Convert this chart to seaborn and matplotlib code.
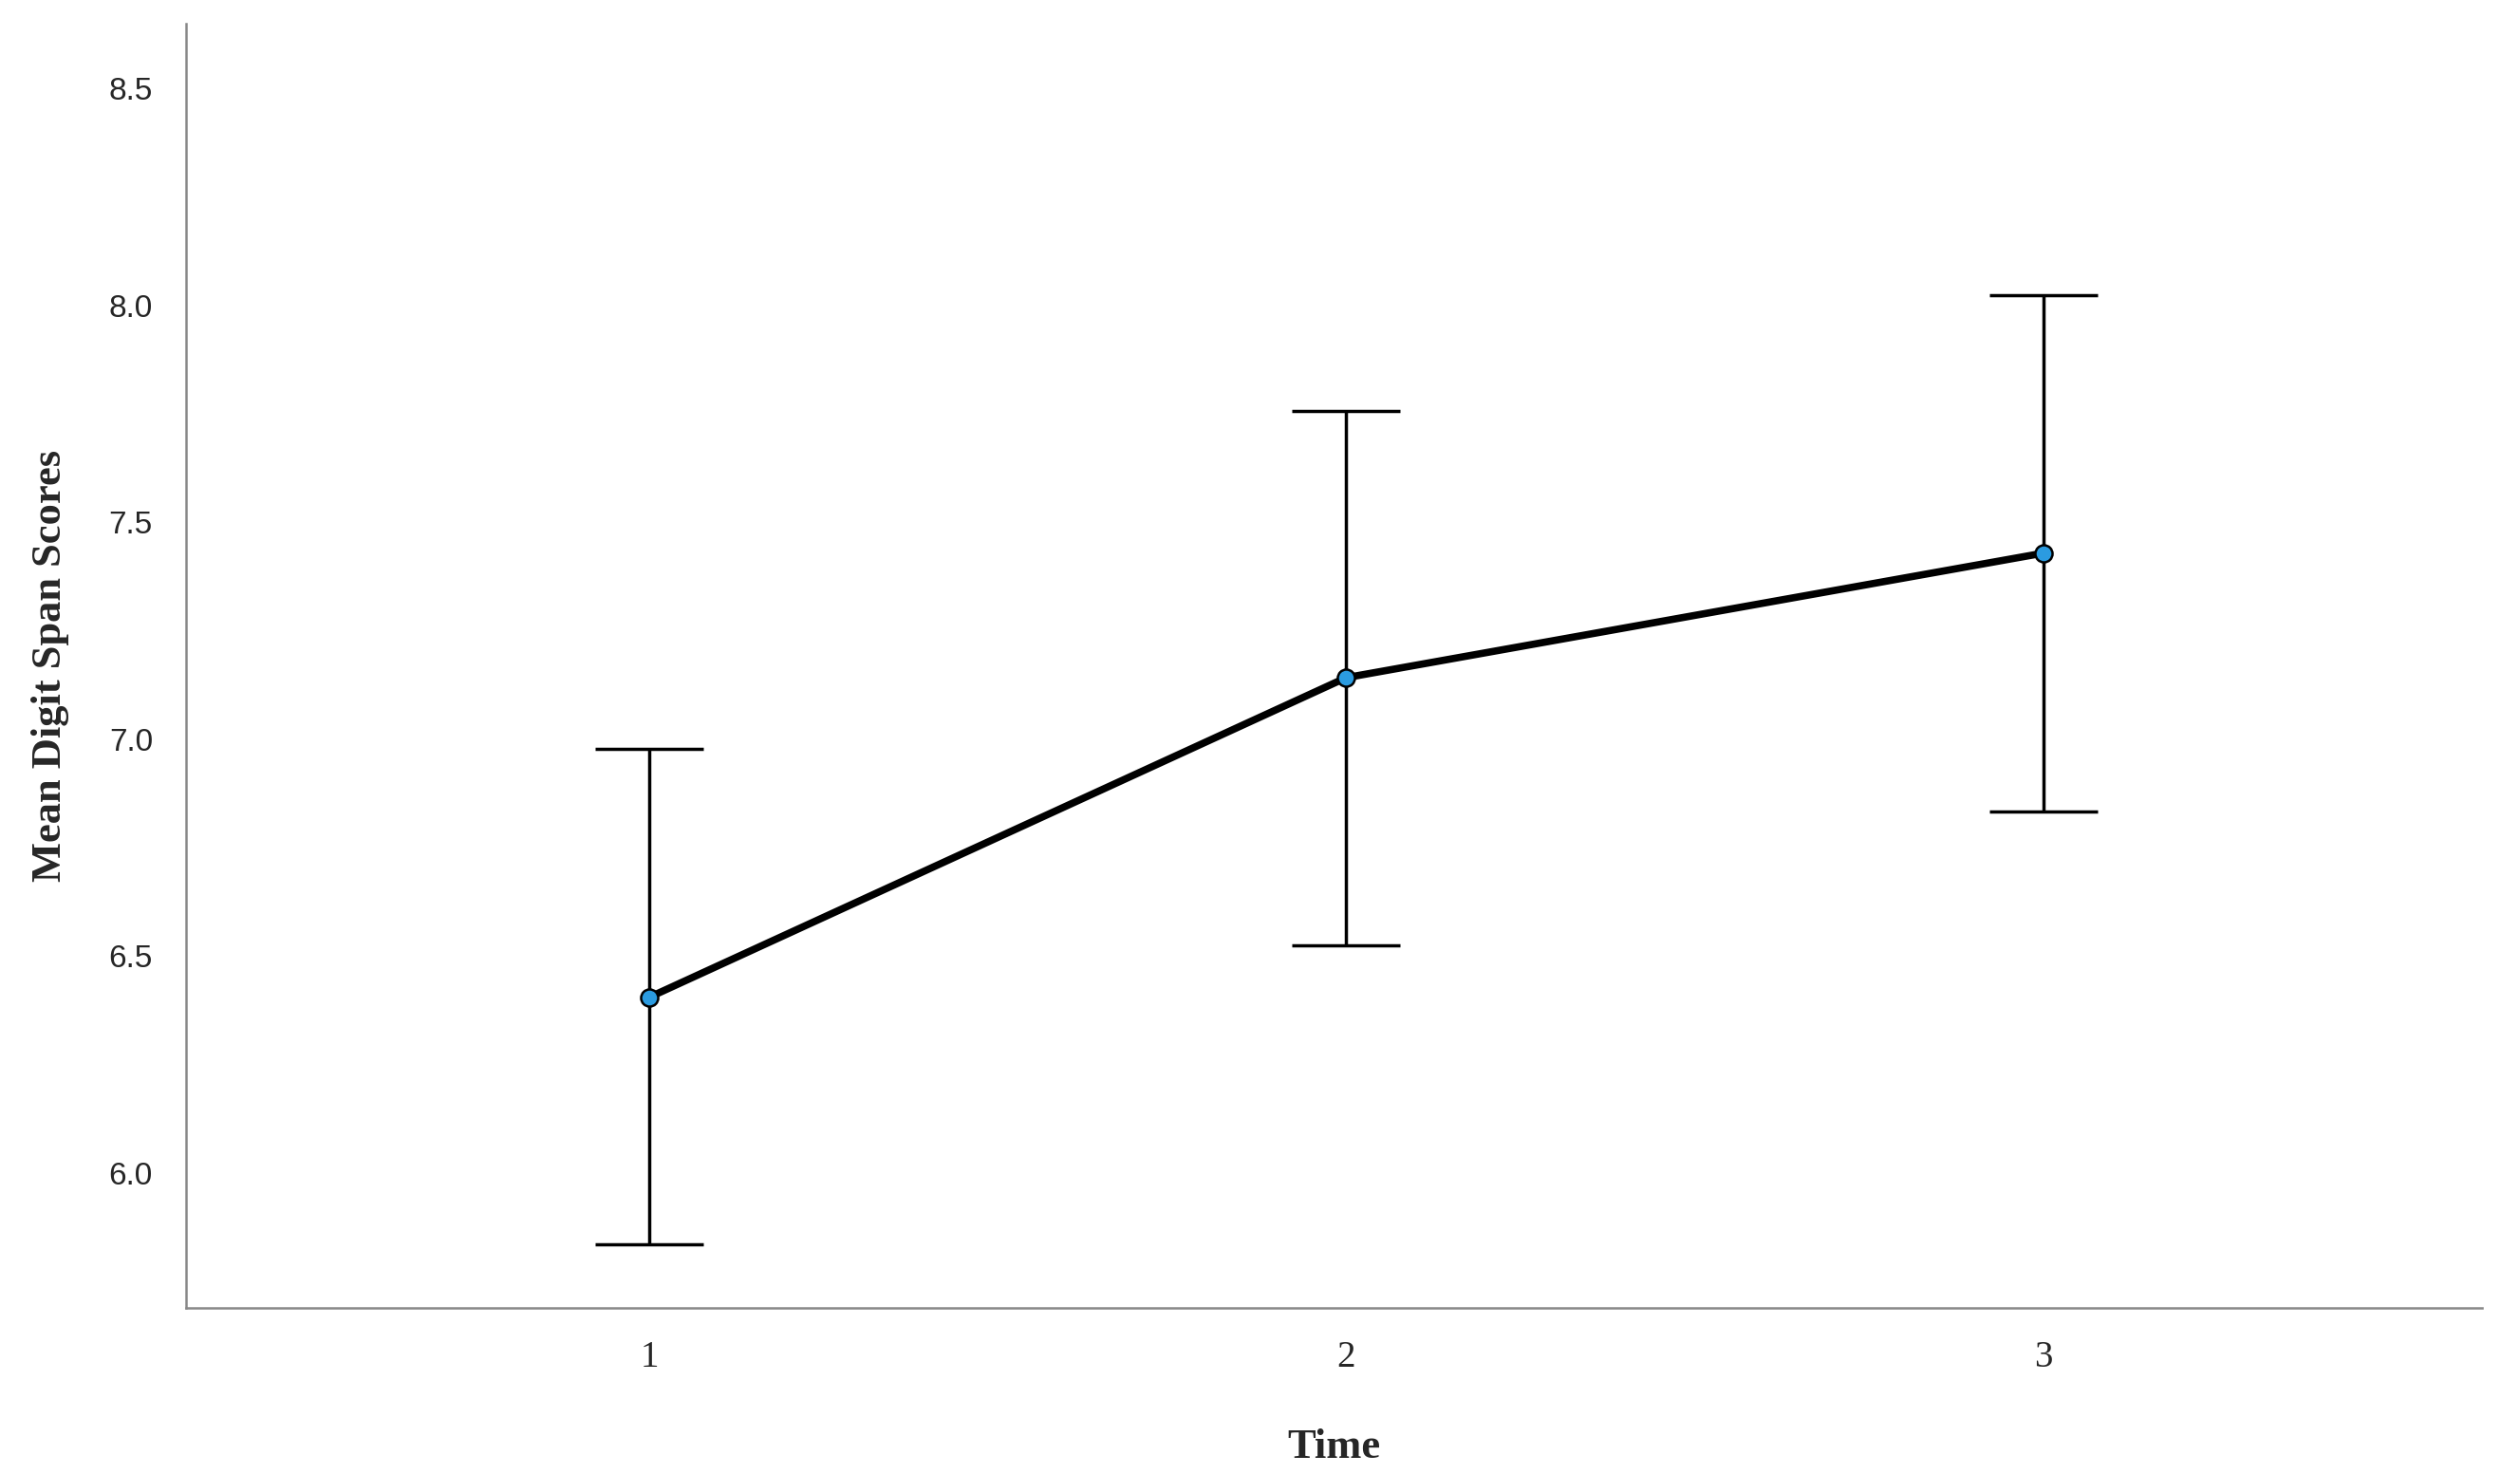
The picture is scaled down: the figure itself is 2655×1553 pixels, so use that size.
import matplotlib
matplotlib.use("Agg")
import matplotlib.pyplot as plt
import seaborn as sns
import pandas as pd
import numpy as np

# values
time = [1, 2, 3]
mean_score = [6.405, 7.142, 7.429]
ci_low = [5.836, 6.525, 6.833]
ci_high = [6.978, 7.756, 8.024]

sns.set_theme(style="white")
plt.rcParams['font.family'] = ['Liberation Serif', 'DejaVu Serif']

df = pd.DataFrame({'Time': time, 'Mean': mean_score})

fig = plt.figure(figsize=(26.55, 15.53), dpi=100)
ax = fig.add_axes([0.0737, 0.113, 0.9113, 0.871])

lo = np.array(mean_score) - np.array(ci_low)
hi = np.array(ci_high) - np.array(mean_score)
ax.errorbar(time, mean_score, yerr=[lo, hi], fmt='none', ecolor='black',
            elinewidth=2.5, capsize=41, capthick=2.5, zorder=1)

sns.lineplot(data=df, x='Time', y='Mean', ax=ax, color='black', linewidth=5.5,
             marker='o', markersize=13, markerfacecolor='#2b9be0',
             markeredgecolor='black', markeredgewidth=1.8, zorder=3)

ax.set_xlim(0.335, 3.63)
ax.set_ylim(5.69, 8.65)
ax.set_xticks(time)
ax.set_xticklabels([str(t) for t in time], fontsize=28)
ax.set_yticks([6.0, 6.5, 7.0, 7.5, 8.0, 8.5])
ax.set_yticklabels(['6.0', '6.5', '7.0', '7.5', '8.0', '8.5'],
                   fontsize=24, family='Liberation Sans')
ax.tick_params(axis='both', length=0, pad=25)

ax.set_xlabel('Time', fontsize=32, fontweight='bold', labelpad=40)
ax.set_ylabel('Mean Digit Span Scores', fontsize=32, fontweight='bold', labelpad=30)

for s in ['top', 'right']:
    ax.spines[s].set_visible(False)
for s in ['left', 'bottom']:
    ax.spines[s].set_color('#888888')
    ax.spines[s].set_linewidth(1.8)

fig.savefig('out.png', dpi=100)
